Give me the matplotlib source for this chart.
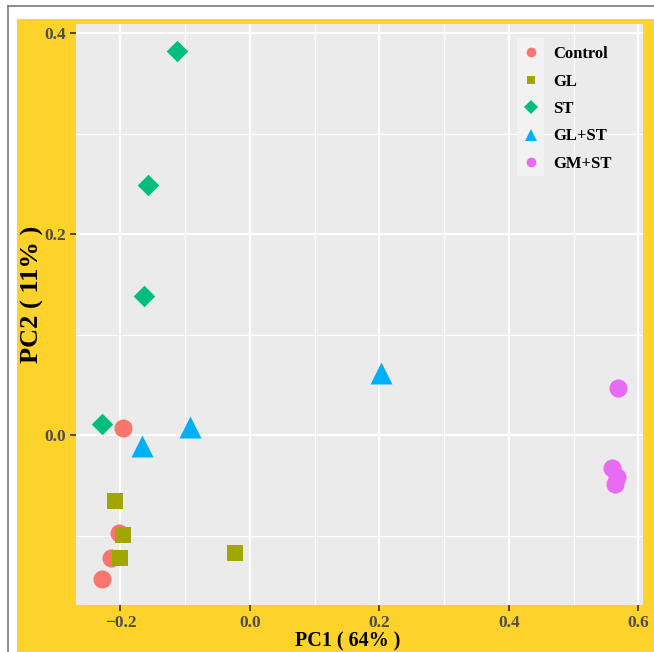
import matplotlib.pyplot as plt
from matplotlib.lines import Line2D
from matplotlib.patches import Rectangle

# PCA scores per group
groups = ['Control', 'GL', 'ST', 'GL+ST', 'GM+ST']
colors = ['#F8766D', '#A3A500', '#00BF7D', '#00B0F6', '#E76BF3']
markers = ['o', 's', 'D', '^', 'o']
sizes = [170, 135, 120, 250, 170]

control_pc1 = [-0.196, -0.203, -0.214, -0.228]
control_pc2 = [0.007, -0.097, -0.122, -0.143]
gl_pc1 = [-0.208, -0.196, -0.200, -0.023]
gl_pc2 = [-0.066, -0.099, -0.122, -0.117]
st_pc1 = [-0.229, -0.113, -0.157, -0.164]
st_pc2 = [0.011, 0.382, 0.249, 0.138]
glst_pc1 = [-0.093, -0.167, 0.203]
glst_pc2 = [0.008, -0.011, 0.062]
gmst_pc1 = [0.568, 0.559, 0.567, 0.563]
gmst_pc2 = [0.047, -0.033, -0.042, -0.049]

pc1 = [control_pc1, gl_pc1, st_pc1, glst_pc1, gmst_pc1]
pc2 = [control_pc2, gl_pc2, st_pc2, glst_pc2, gmst_pc2]

W, H = 654, 652
fig = plt.figure(figsize=(W / 100, H / 100), dpi=100)
fig.patch.set_facecolor('white')

# yellow background and thin grey frame
fig.patches.append(Rectangle((17 / W, 0), 1, 1 - 19 / H, transform=fig.transFigure,
                             facecolor='#FDD22B', edgecolor='none', zorder=-2))
fig.lines.append(Line2D([7.5 / W, 7.5 / W], [0, 1 - 5.5 / H], transform=fig.transFigure,
                        color='#7a7a7a', lw=1.2, zorder=-2))
fig.lines.append(Line2D([7.5 / W, 1], [1 - 5.5 / H, 1 - 5.5 / H], transform=fig.transFigure,
                        color='#7a7a7a', lw=1.2, zorder=-2))

ax = fig.add_axes([76 / W, 47 / H, 567 / W, 581 / H])
ax.set_facecolor('#EBEBEB')
for s in ax.spines.values():
    s.set_visible(False)

ax.set_xlim(-0.2687, 0.607)
ax.set_ylim(-0.169, 0.409)
ax.set_xticks([-0.2, 0.0, 0.2, 0.4, 0.6])
ax.set_yticks([0.0, 0.2, 0.4])
ax.set_xticks([-0.1, 0.1, 0.3, 0.5], minor=True)
ax.set_yticks([-0.1, 0.1, 0.3], minor=True)
ax.set_xticklabels(['\u22120.2', '0.0', '0.2', '0.4', '0.6'])
ax.grid(True, which='major', color='white', lw=1.5)
ax.grid(True, which='minor', color='white', lw=0.8)
ax.set_axisbelow(True)
ax.tick_params(which='major', length=4, width=1.2, color='#333333', pad=3,
               labelsize=12.5, labelcolor='#4D4D4D')
ax.tick_params(which='minor', length=0)
for lab in ax.get_xticklabels() + ax.get_yticklabels():
    lab.set_family('Liberation Serif')
    lab.set_weight('bold')

for g, c, m, sz, x, y in zip(groups, colors, markers, sizes, pc1, pc2):
    ax.scatter(x, y, s=sz, c=c, marker=m, linewidths=0, zorder=3)

# axis titles
fig.text(348 / W, 1 - 641 / H, 'PC1 ( 64% )', ha='center', va='center',
         fontsize=14.5, fontweight='bold', family='Liberation Serif')
fig.text(32 / W, 1 - 294 / H, 'PC2 ( 11% )', ha='center', va='center', rotation=90,
         fontsize=19, fontweight='bold', family='Liberation Serif')

# legend
fig.patches.append(Rectangle((517 / W, 1 - 176 / H), 27 / W, 138 / H, transform=fig.transFigure,
                             facecolor='#F2F2F2', edgecolor='none', zorder=1))
leg_sizes = [7, 6, 7, 8, 7]
handles = [Line2D([], [], ls='none', marker=m, color=c, markersize=ms, markeredgewidth=0)
           for m, c, ms in zip(markers, colors, leg_sizes)]
leg = fig.legend(handles, groups, loc='upper left', bbox_to_anchor=(525 / W, 1 - 46 / H),
                 frameon=False, prop={'family': 'Liberation Serif', 'weight': 'bold', 'size': 12},
                 handlelength=0.7, handletextpad=1.0, labelspacing=0.69, borderaxespad=0,
                 borderpad=0)
leg.set_zorder(5)

fig.savefig('out.png', dpi=100)
